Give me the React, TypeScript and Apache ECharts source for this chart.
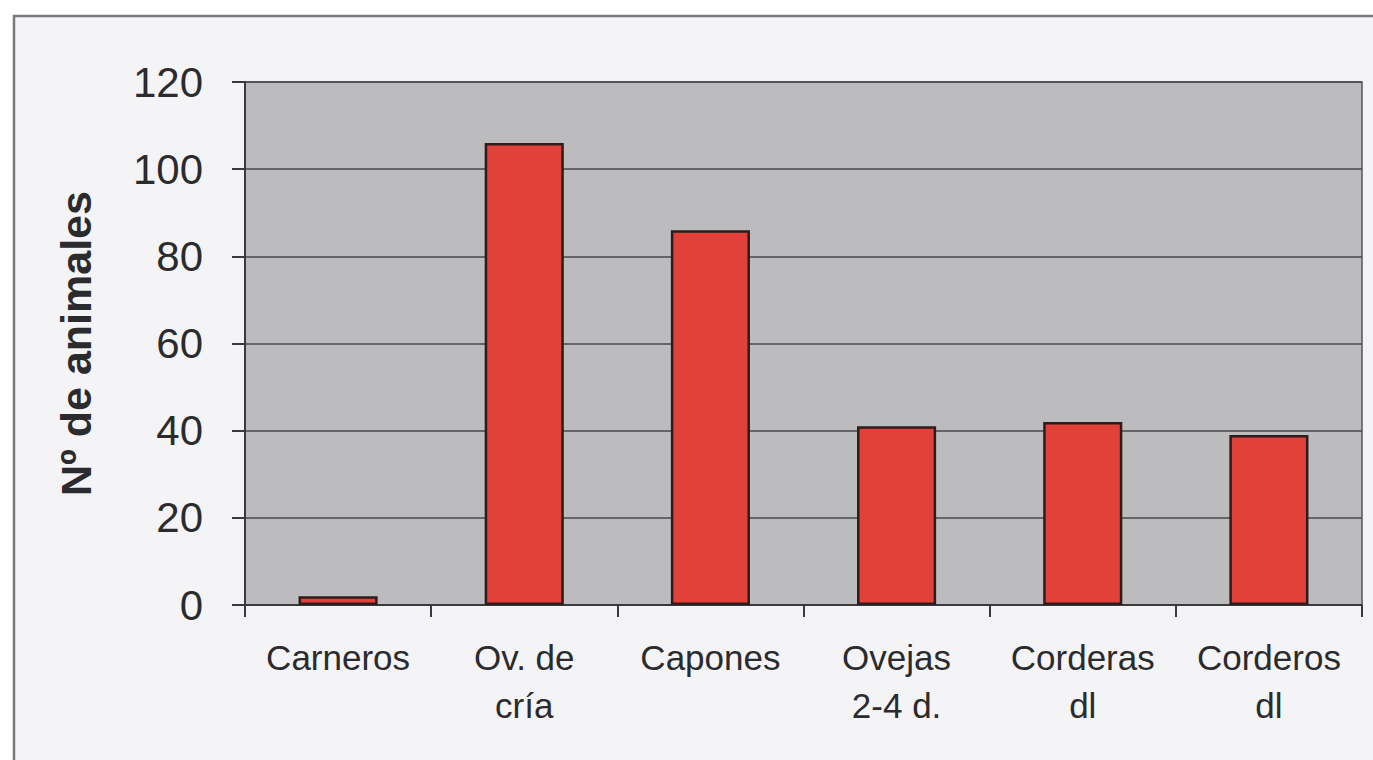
import React, { useEffect, useRef } from "react";
import * as echarts from "echarts";

// Number of animals per category
const categories = [
  "Carneros",
  "Ov. de\ncría",
  "Capones",
  "Ovejas\n2-4 d.",
  "Corderas\ndl",
  "Corderos\ndl",
];
const animalCounts = [2, 106, 86, 41, 42, 39];
const yTicks = { min: 0, max: 120, interval: 20 };
const yAxisTitle = "Nº de animales";

const FONT = "'Liberation Sans', Arial, 'Noto Sans', sans-serif";
const TEXT = "#2b2b2d";

export default function App() {
  const ref = useRef<HTMLDivElement | null>(null);

  useEffect(() => {
    if (!ref.current) return;
    const chart = echarts.init(ref.current, undefined, { renderer: "svg" });
    chart.setOption({
      animation: false,
      backgroundColor: "#ffffff",
      textStyle: { fontFamily: FONT, color: TEXT },
      graphic: [
        {
          type: "rect",
          z: -10,
          silent: true,
          shape: { x: 14, y: 16, width: 1400, height: 800 },
          style: { fill: "#f4f4f6", stroke: "#7a7a7c", lineWidth: 2.5 },
        },
      ],
      grid: {
        left: 245,
        top: 82,
        right: 11,
        bottom: 155,
        show: true,
        backgroundColor: "#bcbcbe",
        borderColor: "#555558",
        borderWidth: 1.5,
      },
      xAxis: {
        type: "category",
        data: categories,
        axisLine: { lineStyle: { color: "#3a3a3c", width: 2 } },
        axisTick: { show: true, length: 12, lineStyle: { color: "#3a3a3c", width: 2 } },
        axisLabel: {
          fontFamily: FONT,
          fontSize: 35,
          color: TEXT,
          lineHeight: 48,
          margin: 28,
          interval: 0,
        },
      },
      yAxis: {
        type: "value",
        min: yTicks.min,
        max: yTicks.max,
        interval: yTicks.interval,
        name: yAxisTitle,
        nameLocation: "middle",
        nameGap: 148,
        nameRotate: 90,
        nameTextStyle: {
          fontFamily: FONT,
          fontSize: 43,
          fontWeight: "bold",
          color: TEXT,
        },
        axisLine: { show: true, lineStyle: { color: "#3a3a3c", width: 2 } },
        axisTick: { show: true, length: 13, lineStyle: { color: "#3a3a3c", width: 2 } },
        axisLabel: {
          fontFamily: FONT,
          fontSize: 42,
          color: TEXT,
          margin: 42,
        },
        splitLine: { show: true, lineStyle: { color: "#48484a", width: 1.5 } },
      },
      series: [
        {
          type: "bar",
          data: animalCounts,
          barCategoryGap: "57.5%",
          itemStyle: {
            color: "#e2413a",
            borderColor: "#2e1c1c",
            borderWidth: 2.5,
          },
        },
      ],
    });
    return () => chart.dispose();
  }, []);

  return (
    <div
      ref={ref}
      style={{ position: "fixed", left: 0, top: 0, width: 1373, height: 760 }}
    />
  );
}
